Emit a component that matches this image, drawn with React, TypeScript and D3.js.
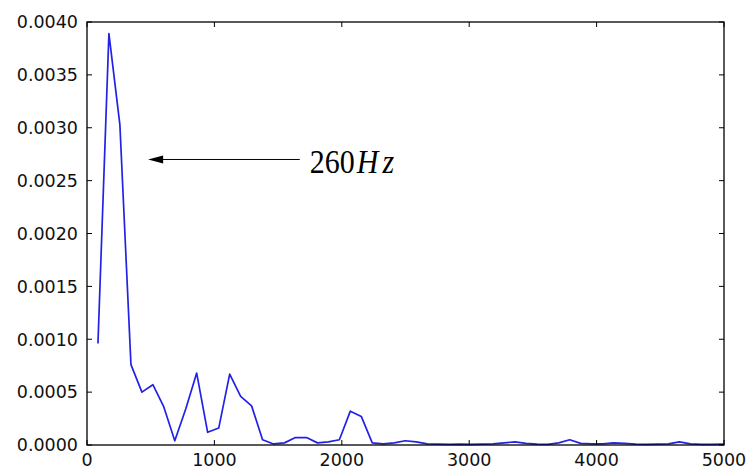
import React, { useEffect, useRef } from "react";
import * as d3 from "d3";

// FFT bin frequencies (Hz)
const freqs = [
  86, 172, 258, 345, 431, 517, 603, 689, 775, 861, 947, 1034, 1120, 1206,
  1292, 1378, 1464, 1550, 1636, 1723, 1809, 1895, 1981, 2067, 2153, 2239,
  2325, 2412, 2498, 2584, 2670, 2756, 2842, 2928, 3014, 3100, 3187, 3273,
  3359, 3445, 3531, 3617, 3703, 3789, 3875, 3962, 4048, 4134, 4220, 4306,
  4392, 4478, 4564, 4650, 4737, 4823, 4909, 4995,
];

// magnitude at each bin
const amps = [
  0.00096, 0.00389, 0.00303, 0.00076, 0.0005, 0.00057, 0.00036, 0.00004,
  0.00034, 0.00068, 0.00012, 0.00016, 0.00067, 0.00046, 0.00037, 0.00005,
  0.00001, 0.00002, 0.00007, 0.00007, 0.00002, 0.00003, 0.00005, 0.00032,
  0.00027, 0.00002, 0.00001, 0.00002, 0.00004, 0.00003, 0.00001, 0.000008,
  0.000006, 0.000008, 0.000006, 0.000008, 0.00001, 0.00002, 0.00003,
  0.000015, 0.000008, 0.000006, 0.00002, 0.00005, 0.000015, 0.00001,
  0.00001, 0.00002, 0.000015, 0.000008, 0.000006, 0.000008, 0.00001,
  0.00003, 0.00001, 0.000006, 0.000005, 0.000008,
];

const xTicks = [0, 1000, 2000, 3000, 4000, 5000];
const yTicks = [0, 0.0005, 0.001, 0.0015, 0.002, 0.0025, 0.003, 0.0035, 0.004];

const noteLabel = ["260", "Hz"];
const arrowTip = [480, 0.0027];
const arrowTail = [1670, 0.0027];

export default function App() {
  const ref = useRef<SVGSVGElement>(null);
  const width = 748;
  const height = 472;
  const margin = { top: 22, right: 24, bottom: 27, left: 87 };

  useEffect(() => {
    const svg = d3.select(ref.current);
    svg.selectAll("*").remove();

    const x = d3
      .scaleLinear()
      .domain([0, 5000])
      .range([margin.left, width - margin.right]);
    const y = d3
      .scaleLinear()
      .domain([0, 0.004])
      .range([height - margin.bottom, margin.top]);

    const font = "'DejaVu Sans', sans-serif";
    const tickLen = 5;

    // Line
    const line = d3
      .line<number>()
      .x((d, i) => x(freqs[i]))
      .y(d => y(d));

    svg
      .append("path")
      .attr("d", line(amps))
      .attr("fill", "none")
      .attr("stroke", "#2222e6")
      .attr("stroke-width", 1.7)
      .attr("stroke-linejoin", "round");

    // Frame
    svg
      .append("rect")
      .attr("x", x(0))
      .attr("y", y(0.004))
      .attr("width", x(5000) - x(0))
      .attr("height", y(0) - y(0.004))
      .attr("fill", "none")
      .attr("stroke", "#000")
      .attr("stroke-width", 1.3);

    // X ticks (bottom + top, inward)
    const xt = svg.append("g");
    xTicks.forEach(t => {
      xt.append("line")
        .attr("x1", x(t))
        .attr("x2", x(t))
        .attr("y1", y(0))
        .attr("y2", y(0) - tickLen)
        .attr("stroke", "#000");
      xt.append("line")
        .attr("x1", x(t))
        .attr("x2", x(t))
        .attr("y1", y(0.004))
        .attr("y2", y(0.004) + tickLen)
        .attr("stroke", "#000");
      xt.append("text")
        .attr("x", x(t))
        .attr("y", y(0) + 21)
        .attr("text-anchor", "middle")
        .style("font-family", font)
        .style("font-size", "17.5px")
        .style("fill", "#111")
        .text(t);
    });

    // Y ticks (left + right, inward)
    const yt = svg.append("g");
    yTicks.forEach(t => {
      yt.append("line")
        .attr("x1", x(0))
        .attr("x2", x(0) + tickLen)
        .attr("y1", y(t))
        .attr("y2", y(t))
        .attr("stroke", "#000");
      yt.append("line")
        .attr("x1", x(5000))
        .attr("x2", x(5000) - tickLen)
        .attr("y1", y(t))
        .attr("y2", y(t))
        .attr("stroke", "#000");
      yt.append("text")
        .attr("x", x(0) - 9)
        .attr("y", y(t))
        .attr("dy", "0.36em")
        .attr("text-anchor", "end")
        .style("font-family", font)
        .style("font-size", "17.5px")
        .style("fill", "#111")
        .text(t.toFixed(4));
    });

    // Annotation arrow
    const tipX = x(arrowTip[0]);
    const tipY = y(arrowTip[1]);
    const tailX = x(arrowTail[0]);
    svg
      .append("line")
      .attr("x1", tailX)
      .attr("x2", tipX + 12)
      .attr("y1", tipY)
      .attr("y2", tipY)
      .attr("stroke", "#000")
      .attr("stroke-width", 1);
    svg
      .append("path")
      .attr("d", `M${tipX},${tipY} L${tipX + 15},${tipY - 4} L${tipX + 15},${tipY + 4} Z`)
      .attr("fill", "#000");

    // label, slightly stretched vertically like the LaTeX rendering
    const note = svg
      .append("text")
      .attr("transform", `translate(${tailX + 10},${tipY + 14}) scale(1,1.12)`)
      .style("font-family", "'Liberation Serif', serif")
      .style("font-size", "30px")
      .style("fill", "#000");
    note.append("tspan").text(noteLabel[0]);
    note
      .append("tspan")
      .style("font-style", "italic")
      .attr("dx", 2)
      .attr("letter-spacing", 4)
      .text(noteLabel[1]);
  }, []);

  return (
    <div style={{ position: "absolute", left: 0, top: 0, background: "#fff" }}>
      <svg ref={ref} width={width} height={height} style={{ display: "block" }} />
    </div>
  );
}
